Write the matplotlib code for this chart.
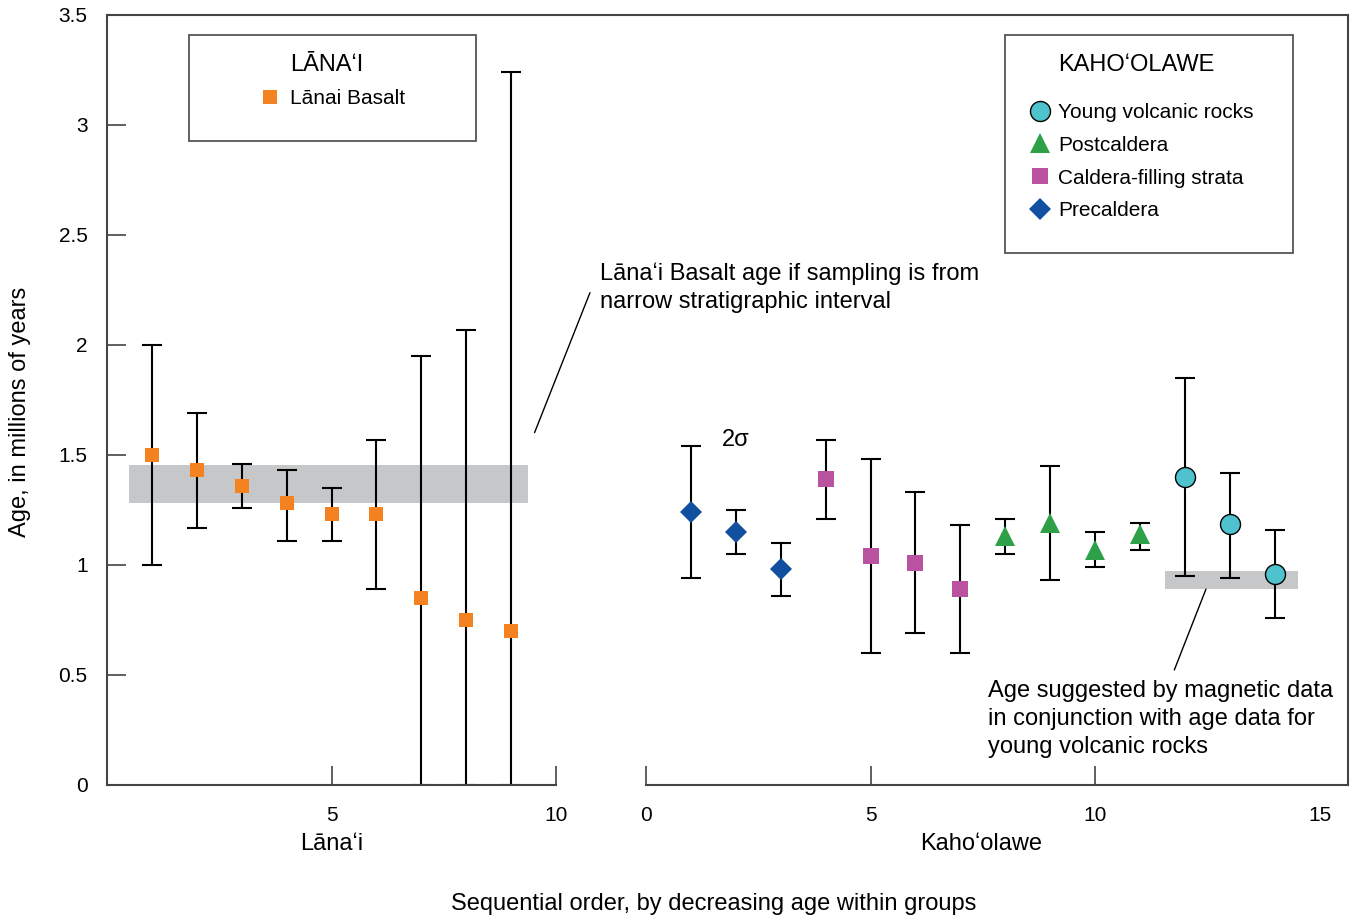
import matplotlib
matplotlib.use("Agg")
import matplotlib.pyplot as plt
from matplotlib.lines import Line2D
from matplotlib.patches import Rectangle

plt.rcParams['font.family'] = ['Liberation Sans', 'DejaVu Sans']

# Lana'i data (ages in Ma, 2-sigma range)
lanai_x = [1, 2, 3, 4, 5, 6, 7, 8, 9]
lanai_age = [1.50, 1.43, 1.36, 1.28, 1.23, 1.23, 0.85, 0.75, 0.70]
lanai_lo = [1.00, 1.17, 1.26, 1.11, 1.11, 0.89, 0.00, 0.00, 0.00]
lanai_hi = [2.00, 1.69, 1.46, 1.43, 1.35, 1.57, 1.95, 2.07, 3.24]

# Kaho'olawe data
pre_x = [1, 2, 3]
pre_age = [1.24, 1.15, 0.98]
pre_lo = [0.94, 1.05, 0.86]
pre_hi = [1.54, 1.25, 1.10]

cal_x = [4, 5, 6, 7]
cal_age = [1.39, 1.04, 1.01, 0.89]
cal_lo = [1.21, 0.60, 0.69, 0.60]
cal_hi = [1.57, 1.48, 1.33, 1.18]

post_x = [8, 9, 10, 11]
post_age = [1.13, 1.19, 1.07, 1.14]
post_lo = [1.05, 0.93, 0.99, 1.07]
post_hi = [1.21, 1.45, 1.15, 1.19]

young_x = [12, 13, 14]
young_age = [1.40, 1.185, 0.96]
young_lo = [0.95, 0.94, 0.76]
young_hi = [1.85, 1.42, 1.16]

# shaded age bands: (x0, x1, y0, y1)
lanai_band = (0.48, 9.38, 1.28, 1.455)
kaho_band = (11.56, 14.51, 0.89, 0.971)

yticks = [0, 0.5, 1, 1.5, 2, 2.5, 3, 3.5]
ytick_labels = ['0', '0.5', '1', '1.5', '2', '2.5', '3', '3.5']

ORANGE = '#F58220'
PURPLE = '#B9529F'
BLUE = '#1150A0'
GREEN = '#2EA148'
CYAN = '#4FC3CD'
BAND = '#C6C7C8'
SPINE = '#444444'

W, H = 1366, 918


def fx(px):
    return px / W


def fy(py):
    return 1 - py / H


def errbar(ax, x, y, lo, hi, **kw):
    yerr = [[v - l for v, l in zip(y, lo)], [h - v for v, h in zip(y, hi)]]
    ax.errorbar(x, y, yerr=yerr, fmt='none', ecolor='black', elinewidth=1.5,
                capsize=7, capthick=1.5, zorder=2)
    ax.plot(x, y, linestyle='none', zorder=3, **kw)


def style_axis(ax):
    for s in ax.spines.values():
        s.set_color(SPINE)
        s.set_linewidth(1.5)
    ax.tick_params(direction='in', length=14, width=1.2, color=SPINE,
                   labelsize=15)


def main():
    fig = plt.figure(figsize=(13.66, 9.18), dpi=100)

    # top frame line spanning both panels
    frame = fig.add_axes([fx(107), fy(785), fx(1348 - 107), (785 - 15) / H])
    frame.set_facecolor('none')
    frame.set_xticks([])
    frame.set_yticks([])
    for k in ['left', 'right', 'bottom']:
        frame.spines[k].set_visible(False)
    frame.spines['top'].set_color(SPINE)
    frame.spines['top'].set_linewidth(1.5)

    # left panel: Lana'i
    ax1 = fig.add_axes([fx(107), fy(785), fx(556 - 107), (785 - 15) / H])
    ax1.set_facecolor('none')
    ax1.set_xlim(0, 10)
    ax1.set_ylim(0, 3.5)
    ax1.spines['top'].set_visible(False)
    ax1.spines['right'].set_visible(False)
    style_axis(ax1)
    ax1.tick_params(axis='x', pad=15)
    ax1.tick_params(axis='y', pad=14)
    ax1.set_xticks([5, 10])
    ax1.set_xticklabels(['5', '10'])
    ax1.set_yticks(yticks)
    ax1.set_yticklabels(ytick_labels)

    x0, x1, y0, y1 = lanai_band
    ax1.fill_between([x0, x1], y0, y1, color=BAND, lw=0, zorder=1)
    errbar(ax1, lanai_x, lanai_age, lanai_lo, lanai_hi,
           marker='s', markersize=9.4, color=ORANGE, markeredgewidth=0)

    ax1.set_ylabel('Age, in millions of years', fontsize=17)
    ax1.yaxis.set_label_coords(-0.169, 0.484)
    ax1.set_xlabel('Lānaʻi', fontsize=17)
    ax1.xaxis.set_label_coords(0.5, -0.062)

    ax1.annotate('', xy=(9.5, 1.59), xytext=(10.78, 2.25),
                 arrowprops=dict(arrowstyle='-', color='black', lw=1.0),
                 annotation_clip=False)
    ax1.text(10.97, 2.26, 'Lānaʻi Basalt age if sampling is from\nnarrow stratigraphic interval',
             fontsize=17, va='center', ha='left', linespacing=1.34)

    # right panel: Kaho'olawe
    ax2 = fig.add_axes([fx(646), fy(785), fx(1348 - 646), (785 - 15) / H])
    ax2.set_facecolor('none')
    ax2.set_xlim(0, 15.63)
    ax2.set_ylim(0, 3.5)
    ax2.spines['top'].set_visible(False)
    ax2.spines['left'].set_visible(False)
    style_axis(ax2)
    ax2.tick_params(axis='x', pad=15)
    ax2.set_yticks([])
    ax2.set_xticks([0, 5, 10, 15])
    ax2.set_xticklabels(['0', '5', '10', '15'])
    ax2.xaxis.get_major_ticks()[-1].tick1line.set_visible(False)

    x0, x1, y0, y1 = kaho_band
    ax2.fill_between([x0, x1], y0, y1, color=BAND, lw=0, zorder=1)
    errbar(ax2, pre_x, pre_age, pre_lo, pre_hi,
           marker='D', markersize=11, color=BLUE, markeredgewidth=0)
    errbar(ax2, cal_x, cal_age, cal_lo, cal_hi,
           marker='s', markersize=12.2, color=PURPLE, markeredgewidth=0)
    errbar(ax2, post_x, post_age, post_lo, post_hi,
           marker='^', markersize=15, color=GREEN, markeredgewidth=0)
    errbar(ax2, young_x, young_age, young_lo, young_hi,
           marker='o', markersize=14.4, markerfacecolor=CYAN,
           markeredgecolor='black', markeredgewidth=1.0)

    ax2.text(2.0, 1.57, '2σ', fontsize=17, ha='center', va='center')
    ax2.set_xlabel('Kahoʻolawe', fontsize=17)
    ax2.xaxis.set_label_coords(0.477, -0.062)

    ax2.annotate('', xy=(12.49, 0.902), xytext=(11.74, 0.511),
                 arrowprops=dict(arrowstyle='-', color='black', lw=1.0))
    ax2.text(7.61, 0.30, 'Age suggested by magnetic data\nin conjunction with age data for\nyoung volcanic rocks',
             fontsize=17, va='center', ha='left', linespacing=1.34)

    fig.text(fx(714), fy(904), 'Sequential order, by decreasing age within groups',
             fontsize=17, ha='center', va='center')

    # legend boxes
    fig.add_artist(Rectangle((fx(189), fy(141)), fx(476 - 189), (141 - 35) / H,
                             transform=fig.transFigure, fill=False,
                             edgecolor='#555555', lw=1.3))
    fig.add_artist(Rectangle((fx(1005), fy(253)), fx(1293 - 1005), (253 - 35) / H,
                             transform=fig.transFigure, fill=False,
                             edgecolor='#555555', lw=1.3))

    fig.text(fx(327), fy(65), 'LĀNAʻI', fontsize=17, ha='center', va='center')
    fig.text(fx(1058), fy(65), 'KAHOʻOLAWE', fontsize=17, ha='left', va='center')

    h_lanai = [Line2D([], [], linestyle='none', marker='s', markersize=9.4,
                      color=ORANGE, markeredgewidth=0)]
    fig.legend(h_lanai, ['Lānai Basalt'], loc='upper left',
               bbox_to_anchor=(fx(259.6), fy(89)), frameon=False,
               fontsize=15, borderpad=0, borderaxespad=0,
               handlelength=1.0, handletextpad=0.46)

    h_kaho = [
        Line2D([], [], linestyle='none', marker='o', markersize=14.4,
               markerfacecolor=CYAN, markeredgecolor='black', markeredgewidth=1.0),
        Line2D([], [], linestyle='none', marker='^', markersize=15,
               color=GREEN, markeredgewidth=0),
        Line2D([], [], linestyle='none', marker='s', markersize=12.2,
               color=PURPLE, markeredgewidth=0),
        Line2D([], [], linestyle='none', marker='D', markersize=11,
               color=BLUE, markeredgewidth=0),
    ]
    fig.legend(h_kaho, ['Young volcanic rocks', 'Postcaldera',
                        'Caldera-filling strata', 'Precaldera'],
               loc='upper left', bbox_to_anchor=(fx(1030), fy(103)),
               frameon=False, fontsize=15, borderpad=0, borderaxespad=0,
               handlelength=1.0, handletextpad=0.35, labelspacing=0.66)

    fig.savefig('out.png', dpi=100)


if __name__ == "__main__":
    main()
